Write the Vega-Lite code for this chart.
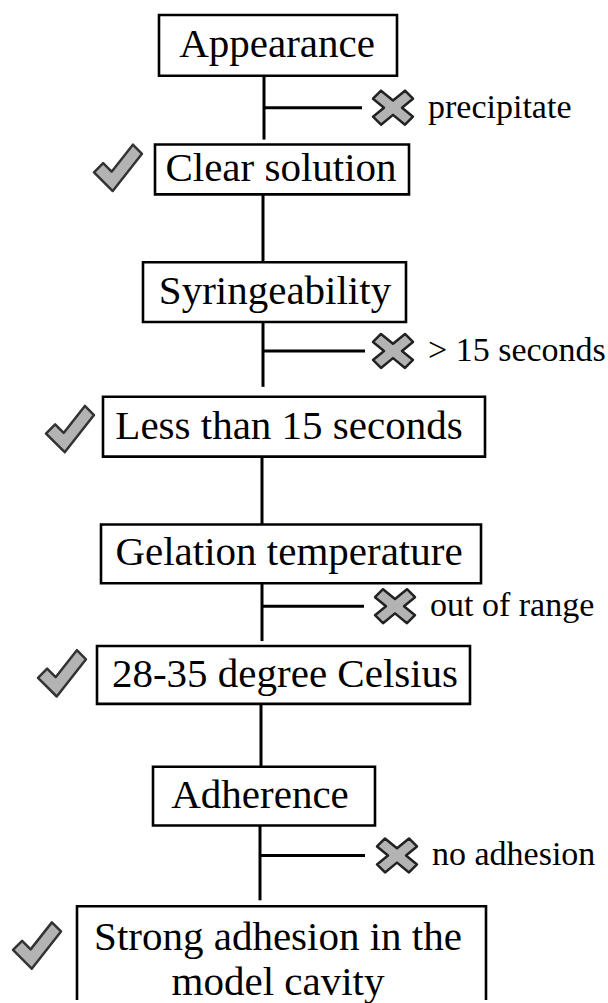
{
  "$schema": "https://vega.github.io/schema/vega-lite/v6.json",
  "width": 608,
  "height": 1003,
  "autosize": {"type": "fit", "contains": "padding"},
  "padding": 0,
  "background": "white",
  "config": {"view": {"stroke": null}},
  "datasets": {
    "links": [
      {"x": 264, "y0": 76, "y1": 140},
      {"x": 263, "y0": 195, "y1": 263},
      {"x": 263, "y0": 323, "y1": 388},
      {"x": 262, "y0": 458, "y1": 526},
      {"x": 262, "y0": 585, "y1": 643},
      {"x": 261, "y0": 706, "y1": 769},
      {"x": 260, "y0": 828, "y1": 903}
    ],
    "rejects": [
      {"label": "precipitate", "x0": 264, "x1": 362, "y": 108, "mx": 393, "tx": 428},
      {"label": "> 15 seconds", "x0": 263, "x1": 365, "y": 352, "mx": 393, "tx": 428},
      {"label": "out of range", "x0": 262, "x1": 364, "y": 608, "mx": 395, "tx": 430},
      {"label": "no adhesion", "x0": 260, "x1": 365, "y": 858, "mx": 397, "tx": 432}
    ],
    "nodes": [
      {"label": "Appearance", "x0": 159, "x1": 397, "y0": 15, "y1": 76, "tx": 277, "ty": 45},
      {"label": "Clear solution", "x0": 155, "x1": 409, "y0": 145, "y1": 195, "tx": 281, "ty": 170},
      {"label": "Syringeability", "x0": 143, "x1": 406, "y0": 263, "y1": 323, "tx": 275, "ty": 293},
      {"label": "Less than 15 seconds", "x0": 103, "x1": 485, "y0": 398, "y1": 458, "tx": 289, "ty": 428},
      {"label": "Gelation temperature", "x0": 101, "x1": 481, "y0": 526, "y1": 585, "tx": 289, "ty": 555},
      {"label": "28-35 degree Celsius", "x0": 97, "x1": 470, "y0": 648, "y1": 706, "tx": 285, "ty": 677},
      {"label": "Adherence", "x0": 153, "x1": 375, "y0": 769, "y1": 828, "tx": 260, "ty": 798},
      {"label": "Strong adhesion in the\nmodel cavity", "x0": 77, "x1": 486, "y0": 909, "y1": 1012, "tx": 278, "ty": 941}
    ],
    "accepts": [
      {"step": "Clear solution", "x": 118, "y": 168},
      {"step": "Less than 15 seconds", "x": 70, "y": 430},
      {"step": "28-35 degree Celsius", "x": 62, "y": 675},
      {"step": "Strong adhesion", "x": 37, "y": 948}
    ]
  },
  "layer": [
    {
      "data": {"name": "links"},
      "mark": {"type": "rule", "stroke": "black", "strokeWidth": 3},
      "encoding": {
        "x": {"field": "x", "type": "quantitative", "scale": {"domain": [0, 608], "nice": false, "zero": false}, "axis": null},
        "y": {"field": "y0", "type": "quantitative", "scale": {"domain": [0, 1003], "nice": false, "zero": false, "reverse": true}, "axis": null},
        "y2": {"field": "y1"}
      }
    },
    {
      "data": {"name": "rejects"},
      "mark": {"type": "rule", "stroke": "black", "strokeWidth": 3},
      "encoding": {
        "x": {"field": "x0", "type": "quantitative", "scale": {"domain": [0, 608], "nice": false, "zero": false}, "axis": null},
        "x2": {"field": "x1"},
        "y": {"field": "y", "type": "quantitative", "scale": {"domain": [0, 1003], "nice": false, "zero": false, "reverse": true}, "axis": null}
      }
    },
    {
      "data": {"name": "nodes"},
      "mark": {"type": "rect", "fill": "white", "stroke": "black", "strokeWidth": 2.6, "clip": true},
      "encoding": {
        "x": {"field": "x0", "type": "quantitative", "scale": {"domain": [0, 608], "nice": false, "zero": false}, "axis": null},
        "x2": {"field": "x1"},
        "y": {"field": "y0", "type": "quantitative", "scale": {"domain": [0, 1003], "nice": false, "zero": false, "reverse": true}, "axis": null},
        "y2": {"field": "y1"}
      }
    },
    {
      "data": {"name": "nodes"},
      "mark": {"type": "text", "font": "Liberation Serif, Times New Roman, serif", "fontSize": 41, "color": "black", "align": "center", "baseline": "middle", "lineBreak": "\n", "lineHeight": 45},
      "encoding": {
        "x": {"field": "tx", "type": "quantitative", "scale": {"domain": [0, 608], "nice": false, "zero": false}, "axis": null},
        "y": {"field": "ty", "type": "quantitative", "scale": {"domain": [0, 1003], "nice": false, "zero": false, "reverse": true}, "axis": null},
        "text": {"field": "label"}
      }
    },
    {
      "data": {"name": "accepts"},
      "mark": {"type": "point", "filled": true, "fill": "#b3b3b3", "stroke": "#333333", "strokeWidth": 2.5, "strokeJoin": "round", "opacity": 1, "fillOpacity": 1, "size": 2304,
        "shape": "M -1 0.2 L -0.62 -0.18 L -0.265 0.175 L 0.62 -0.95 L 1 -0.57 L -0.22 0.98 Z"},
      "encoding": {
        "x": {"field": "x", "type": "quantitative", "scale": {"domain": [0, 608], "nice": false, "zero": false}, "axis": null},
        "y": {"field": "y", "type": "quantitative", "scale": {"domain": [0, 1003], "nice": false, "zero": false, "reverse": true}, "axis": null}
      }
    },
    {
      "data": {"name": "rejects"},
      "mark": {"type": "point", "filled": true, "fill": "#b3b3b3", "stroke": "#222222", "strokeWidth": 2.5, "strokeJoin": "round", "opacity": 1, "fillOpacity": 1, "size": 1600,
        "shape": "M -1 -0.45 L -0.6 -0.85 L 0 -0.36 L 0.6 -0.85 L 1 -0.45 L 0.45 0 L 1 0.45 L 0.6 0.85 L 0 0.36 L -0.6 0.85 L -1 0.45 L -0.45 0 Z"},
      "encoding": {
        "x": {"field": "mx", "type": "quantitative", "scale": {"domain": [0, 608], "nice": false, "zero": false}, "axis": null},
        "y": {"field": "y", "type": "quantitative", "scale": {"domain": [0, 1003], "nice": false, "zero": false, "reverse": true}, "axis": null}
      }
    },
    {
      "data": {"name": "rejects"},
      "mark": {"type": "text", "font": "Liberation Serif, Times New Roman, serif", "fontSize": 34, "color": "black", "align": "left", "baseline": "middle"},
      "encoding": {
        "x": {"field": "tx", "type": "quantitative", "scale": {"domain": [0, 608], "nice": false, "zero": false}, "axis": null},
        "y": {"field": "y", "type": "quantitative", "scale": {"domain": [0, 1003], "nice": false, "zero": false, "reverse": true}, "axis": null},
        "text": {"field": "label"}
      }
    }
  ]
}
